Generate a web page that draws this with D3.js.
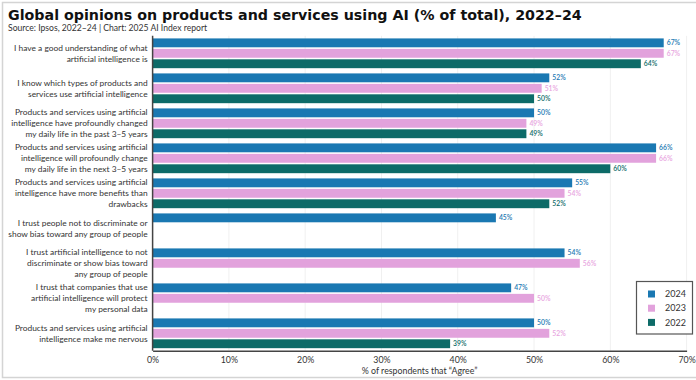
<!DOCTYPE html>
<html>
<head>
<meta charset="utf-8">
<script src="https://cdn.jsdelivr.net/npm/d3@7"></script>
<style>
  body { margin: 0; background: #fff; }
  svg { display: block; font-family: Lato, "Liberation Sans", sans-serif; }
</style>
</head>
<body>
<div id="chart"></div>
<script>
// Global opinions on products and services using AI, by year
const questions = [
  ["I have a good understanding of what", "artificial intelligence is"],
  ["I know which types of products and", "services use artificial intelligence"],
  ["Products and services using artificial", "intelligence have profoundly changed", "my daily life in the past 3–5 years"],
  ["Products and services using artificial", "intelligence will profoundly change", "my daily life in the next 3–5 years"],
  ["Products and services using artificial", "intelligence have more benefits than", "drawbacks"],
  ["I trust people not to discriminate or", "show bias toward any group of people"],
  ["I trust artificial intelligence to not", "discriminate or show bias toward", "any group of people"],
  ["I trust that companies that use", "artificial intelligence will protect", "my personal data"],
  ["Products and services using artificial", "intelligence make me nervous"]
];
const years = ["2024", "2023", "2022"];
const values2024 = [67, 52, 50, 66, 55, 45, 54, 47, 50];
const values2023 = [67, 51, 49, 66, 54, null, 56, 50, 52];
const values2022 = [64, 50, 49, 60, 52, null, null, null, 39];
const xTicks = [0, 10, 20, 30, 40, 50, 60, 70];

const colors = { "2024": "#1a78b2", "2023": "#e2a2dc", "2022": "#0d6b68" };
const labelColors = { "2024": "#1a78b2", "2023": "#e8a5e0", "2022": "#0d6b68" };

const W = 696, H = 380;
const margin = { top: 35.8, right: 9.4, bottom: 29.2, left: 152.6 };
const width = W - margin.left - margin.right;
const height = H - margin.top - margin.bottom;

const seriesByYear = { "2024": values2024, "2023": values2023, "2022": values2022 };
const data = questions.map((q, i) => ({
  key: i,
  lines: q,
  vals: years.map(y => ({ year: y, value: seriesByYear[y][i] })).filter(d => d.value != null)
}));

const svg = d3.select("#chart").append("svg")
  .attr("width", W)
  .attr("height", H);

// screenshot frame
svg.append("rect")
  .attr("x", 2.5).attr("y", 2.5)
  .attr("width", W).attr("height", H - 5)
  .attr("fill", "none")
  .attr("stroke", "#d4d4d4")
  .attr("stroke-width", 1.5);

const title = svg.append("text")
  .attr("x", 8).attr("y", 20)
  .attr("font-family", "'DejaVu Sans', sans-serif")
  .attr("font-size", "14px")
  .attr("font-weight", 700)
  .attr("fill", "#111")
  .text("Global opinions on products and services using AI (% of total), 2022–24");
// scale title so it spans about the same width as the original
const tw = title.node().getComputedTextLength();
title.attr("font-size", (14 * 574 / tw).toFixed(2) + "px");

svg.append("text")
  .attr("x", 8).attr("y", 31)
  .attr("font-size", "8.6px")
  .attr("fill", "#333")
  .text("Source: Ipsos, 2022–24 | Chart: 2025 AI Index report");

const g = svg.append("g")
  .attr("transform", `translate(${margin.left},${margin.top})`);

const x = d3.scaleLinear().domain([0, 70]).range([0, width]);
const y0 = d3.scaleBand().domain(data.map(d => d.key)).range([0, height]).padding(0);
const y1 = d3.scaleBand().domain(years).range([0, y0.bandwidth()])
  .paddingInner(0.15).paddingOuter(0.25);

// gridlines
g.append("g")
  .selectAll("line")
  .data(xTicks.slice(1))
  .join("line")
  .attr("x1", d => x(d)).attr("x2", d => x(d))
  .attr("y1", 0).attr("y2", height)
  .attr("stroke", "#f0f0f0")
  .attr("stroke-width", 1);

const groups = g.selectAll(".grp")
  .data(data)
  .join("g")
  .attr("class", "grp")
  .attr("transform", d => `translate(0,${y0(d.key)})`);

groups.selectAll("rect")
  .data(d => d.vals)
  .join("rect")
  .attr("x", 0)
  .attr("y", d => y1(d.year))
  .attr("width", d => x(d.value))
  .attr("height", y1.bandwidth())
  .attr("fill", d => colors[d.year]);

groups.selectAll(".val")
  .data(d => d.vals)
  .join("text")
  .attr("class", "val")
  .attr("x", d => x(d.value) + 3)
  .attr("y", d => y1(d.year) + y1.bandwidth() / 2)
  .attr("dy", "0.35em")
  .attr("font-size", "6.8px")
  .attr("font-weight", 600)
  .attr("fill", d => labelColors[d.year])
  .text(d => d.value + "%");

// category labels
const lineH = 11;
groups.append("text")
  .attr("text-anchor", "end")
  .attr("font-size", "8.4px")
  .attr("fill", "#333")
  .selectAll("tspan")
  .data(d => d.lines.map((t, i) => ({ t, i, n: d.lines.length })))
  .join("tspan")
  .attr("x", -5)
  .attr("y", d => y0.bandwidth() / 2 + (d.i - (d.n - 1) / 2) * lineH)
  .attr("dy", "0.35em")
  .text(d => d.t);

// axes
const xAxis = g.append("g")
  .attr("transform", `translate(0,${height})`)
  .call(d3.axisBottom(x).tickValues(xTicks).tickFormat(d => d + "%").tickSize(0).tickPadding(6));
xAxis.select(".domain").attr("stroke", "#444").attr("stroke-width", 1.5);
xAxis.selectAll("text")
  .attr("font-size", "8.8px")
  .attr("font-family", "Lato, sans-serif")
  .attr("fill", "#333");

g.append("line")
  .attr("x1", 0).attr("x2", 0)
  .attr("y1", 0).attr("y2", height)
  .attr("stroke", "#444")
  .attr("stroke-width", 1.5);

g.append("text")
  .attr("x", width / 2)
  .attr("y", height + 23)
  .attr("text-anchor", "middle")
  .attr("font-size", "8.8px")
  .attr("fill", "#333")
  .text("% of respondents that \u201CAgree\u201D");

// legend
const legend = svg.append("g").attr("transform", "translate(636.5,281.5)");
legend.append("rect")
  .attr("width", 56).attr("height", 52.5)
  .attr("fill", "#fff")
  .attr("stroke", "#555")
  .attr("stroke-width", 1.2);
const items = legend.selectAll(".item")
  .data(years)
  .join("g")
  .attr("class", "item")
  .attr("transform", (d, i) => `translate(11.5,${12.5 + i * 14.2})`);
items.append("rect")
  .attr("x", 0).attr("y", -3.5)
  .attr("width", 7).attr("height", 7)
  .attr("fill", d => colors[d]);
items.append("text")
  .attr("x", 17).attr("dy", "0.35em")
  .attr("font-size", "9px")
  .attr("fill", "#333")
  .text(d => d);
</script>
</body>
</html>
